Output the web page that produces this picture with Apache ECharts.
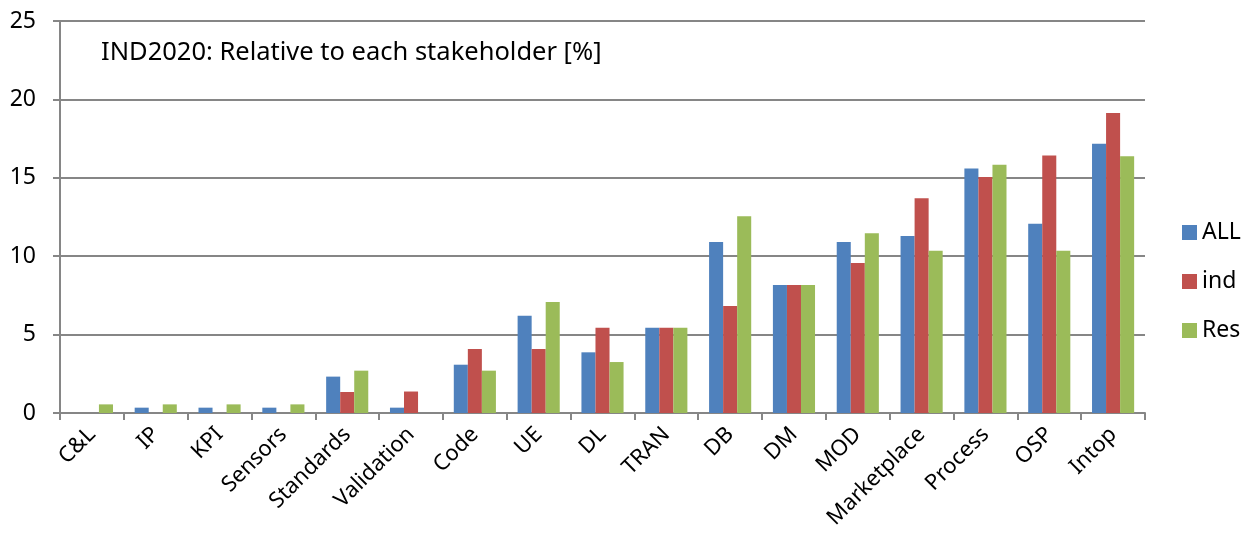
<!DOCTYPE html>
<html>
<head>
<meta charset="utf-8">
<script src="https://cdn.jsdelivr.net/npm/echarts@6/dist/echarts.min.js"></script>
<style>
 html,body{margin:0;padding:0;background:#fff;}
 #chart{width:1248px;height:542px;}
</style>
</head>
<body>
<div id="chart"></div>
<script>
// categories on the x axis
var categories = ['C&L','IP','KPI','Sensors','Standards','Validation','Code','UE','DL','TRAN','DB','DM','MOD','Marketplace','Process','OSP','Intop'];

// values [%]
var allData = [0, 0.34, 0.34, 0.34, 2.32, 0.34, 3.08, 6.21, 3.87, 5.44, 10.9, 8.16, 10.9, 11.29, 15.6, 12.07, 17.17];
var indData = [0, 0, 0, 0, 1.34, 1.37, 4.08, 4.08, 5.44, 5.44, 6.82, 8.16, 9.57, 13.69, 15.05, 16.43, 19.13];
var resData = [0.55, 0.55, 0.55, 0.55, 2.7, 0, 2.7, 7.08, 3.25, 5.44, 12.54, 8.16, 11.46, 10.35, 15.84, 10.35, 16.37];

var yTicks = [0, 5, 10, 15, 20, 25];

var chart = echarts.init(document.getElementById('chart'));
var font = 'Noto Sans';

var option = {
    animation: false,
    title: {
        text: 'IND2020: Relative to each stakeholder [%]',
        left: 96,
        top: 35,
        textStyle: {fontFamily: font, fontSize: 25.5, fontWeight: 'normal', color: '#000'}
    },
    legend: {
        orient: 'vertical',
        left: 1177,
        top: 216,
        itemWidth: 15,
        itemHeight: 15,
        itemGap: 26,
        icon: 'rect',
        textStyle: {fontFamily: font, fontSize: 23, color: '#000'},
        data: ['ALL', 'ind', 'Res']
    },
    grid: {
        left: 60,
        right: 103,
        top: 21,
        bottom: 129
    },
    xAxis: {
        type: 'category',
        data: categories,
        axisLine: {lineStyle: {color: '#868686', width: 2}},
        axisTick: {show: true, length: 7, lineStyle: {color: '#868686', width: 2}},
        axisLabel: {
            rotate: 45,
            interval: 0,
            margin: 18,
            fontFamily: font,
            fontSize: 22,
            color: '#000'
        }
    },
    yAxis: {
        type: 'value',
        min: yTicks[0],
        max: yTicks[yTicks.length - 1],
        interval: 5,
        axisLine: {show: true, lineStyle: {color: '#868686', width: 2}},
        axisTick: {show: true, length: 7, lineStyle: {color: '#868686', width: 2}},
        splitLine: {lineStyle: {color: '#868686', width: 2}},
        axisLabel: {
            fontFamily: font,
            fontSize: 23,
            color: '#000',
            margin: 24
        }
    },
    series: [
        {
            name: 'ALL',
            type: 'bar',
            data: allData,
            barGap: '0%',
            barCategoryGap: '34%',
            itemStyle: {color: '#4F81BD'}
        },
        {
            name: 'ind',
            type: 'bar',
            data: indData,
            barGap: '0%',
            barCategoryGap: '34%',
            itemStyle: {color: '#C0504D'}
        },
        {
            name: 'Res',
            type: 'bar',
            data: resData,
            barGap: '0%',
            barCategoryGap: '34%',
            itemStyle: {color: '#9BBB59'}
        }
    ]
};

chart.setOption(option);
window.addEventListener('resize', function () {
    chart.resize();
});
</script>
</body>
</html>
